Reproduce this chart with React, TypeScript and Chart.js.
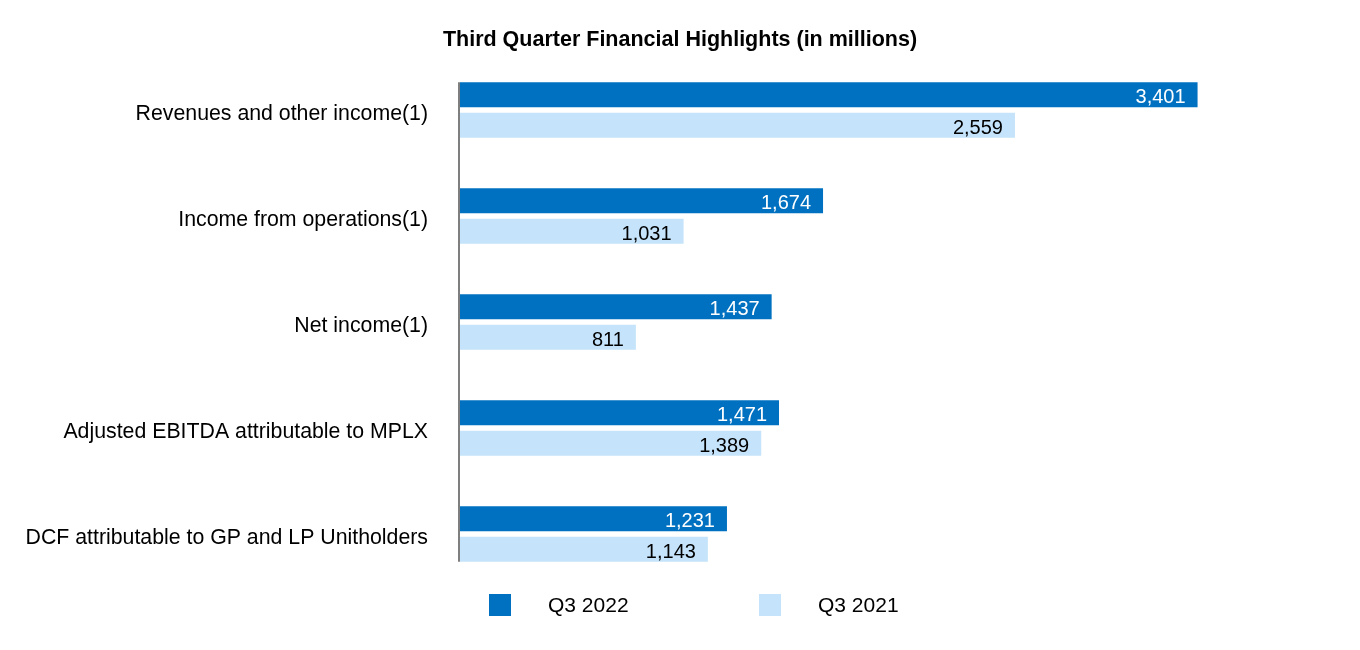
import React, { useEffect, useRef } from "react";
import { Chart, registerables } from "chart.js";

Chart.register(...registerables);

const categories = [
  "Revenues and other income(1)",
  "Income from operations(1)",
  "Net income(1)",
  "Adjusted EBITDA attributable to MPLX",
  "DCF attributable to GP and LP Unitholders",
];
const seriesLabels = ["Q3 2022", "Q3 2021"];
const q3_2022 = [3401, 1674, 1437, 1471, 1231];
const q3_2021 = [2559, 1031, 811, 1389, 1143];
const seriesColors = ["#0070C0", "#C5E3FA"];
const labelColors = ["#FFFFFF", "#000000"];
const xMax = 4150;
const FONT = "'Liberation Sans', Arial, sans-serif";

const axisLinePlugin = {
  id: "axisLine",
  afterDatasetsDraw(chart: any) {
    const first = chart.getDatasetMeta(0).data[0];
    const lastMeta = chart.getDatasetMeta(chart.data.datasets.length - 1);
    const last = lastMeta.data[lastMeta.data.length - 1];
    if (!first || !last) return;
    const x0 = chart.scales.x.getPixelForValue(0);
    const ctx = chart.ctx;
    ctx.save();
    ctx.strokeStyle = "#7F7F7F";
    ctx.lineWidth = 2;
    ctx.beginPath();
    ctx.moveTo(x0 - 1, first.y - first.height / 2);
    ctx.lineTo(x0 - 1, last.y + last.height / 2);
    ctx.stroke();
    ctx.restore();
  },
};

const valueLabelPlugin = {
  id: "valueLabels",
  afterDatasetsDraw(chart: any) {
    const ctx = chart.ctx;
    ctx.save();
    ctx.font = `20px ${FONT}`;
    ctx.textAlign = "right";
    ctx.textBaseline = "middle";
    chart.data.datasets.forEach((ds: any, di: number) => {
      const meta = chart.getDatasetMeta(di);
      meta.data.forEach((bar: any, i: number) => {
        const v = ds.data[i] as number;
        ctx.fillStyle = labelColors[di];
        ctx.fillText(v.toLocaleString("en-US"), bar.x - 12, bar.y + 3);
      });
    });
    ctx.restore();
  },
};

const customLegendPlugin = {
  id: "customLegend",
  afterDraw(chart: any) {
    const ctx = chart.ctx;
    const area = chart.chartArea;
    const cy = area.bottom + 18;
    const box = 22;
    ctx.save();
    ctx.font = `21px ${FONT}`;
    ctx.textAlign = "left";
    ctx.textBaseline = "middle";
    chart.data.datasets.forEach((ds: any, di: number) => {
      const bx = area.left + 29 + di * 270;
      ctx.fillStyle = ds.backgroundColor;
      ctx.fillRect(bx, cy - box / 2, box, box);
      ctx.fillStyle = "#000000";
      ctx.fillText(ds.label, bx + 59, cy + 1);
    });
    ctx.restore();
  },
};

export default function App() {
  const ref = useRef<HTMLCanvasElement>(null);
  useEffect(() => {
    if (!ref.current) return;
    const chart = new Chart(ref.current, {
      type: "bar",
      data: {
        labels: categories,
        datasets: [
          { label: seriesLabels[0], data: q3_2022, backgroundColor: seriesColors[0] },
          { label: seriesLabels[1], data: q3_2021, backgroundColor: seriesColors[1] },
        ],
      },
      options: {
        indexAxis: "y",
        responsive: false,
        animation: false,
        datasets: {
          bar: { categoryPercentage: 0.575, barPercentage: 0.82 },
        },
        layout: { padding: { left: 0, right: 0, top: 0, bottom: 63 } },
        plugins: {
          legend: { display: false },
          tooltip: { enabled: false },
          title: {
            display: true,
            text: "Third Quarter Financial Highlights (in millions)",
            color: "#000000",
            font: { family: FONT, size: 21.5, weight: "bold" },
            padding: { top: 27.2, bottom: 4.0 },
          },
        },
        scales: {
          x: { display: false, min: 0, max: xMax },
          y: {
            afterFit(scale: any) {
              scale.width = 460;
            },
            grid: { display: false },
            border: { display: false },
            ticks: {
              color: "#000000",
              font: { family: FONT, size: 21.3 },
              padding: 24,
              labelOffset: 4.5,
            },
          },
        },
      },
      plugins: [axisLinePlugin, valueLabelPlugin, customLegendPlugin],
    } as any);
    return () => chart.destroy();
  }, []);
  return (
    <div style={{ position: "absolute", left: 0, top: 0, width: 1360, height: 650, background: "#fff" }}>
      <canvas ref={ref} width={1360} height={650} style={{ display: "block" }} />
    </div>
  );
}
